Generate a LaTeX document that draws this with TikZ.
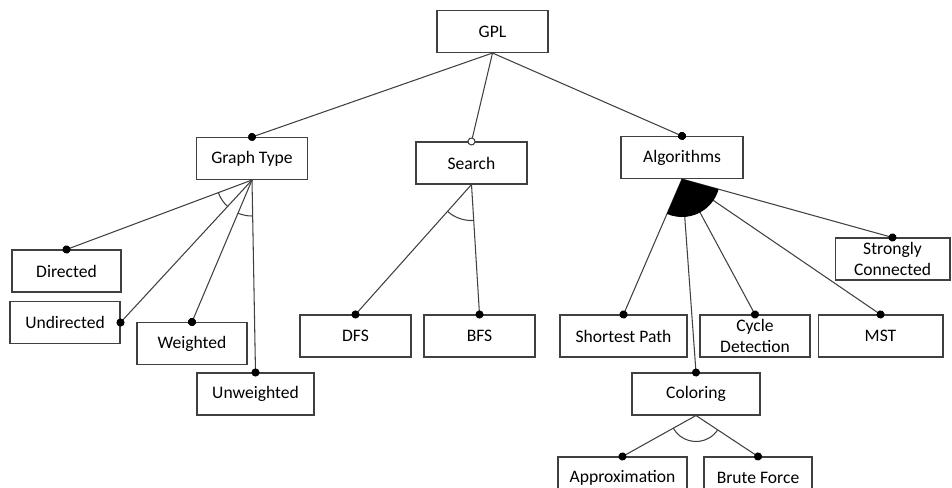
\documentclass[tikz,border=0pt]{standalone}
\usepackage{fontspec}
\setmainfont{Carlito}
\usetikzlibrary{arrows.meta,angles}
\tikzset{
        feature/.style={draw=black!75, rectangle, line width=0.6pt, minimum height=0.84cm, inner xsep=2pt, inner ysep=0pt, align=center, font=\fontsize{10}{11.5}\selectfont},
        link/.style={draw=black!75, line width=0.6pt},
        mand/.style={link, -{Circle[length=4.6pt, black]}, shorten >=-2.3pt},
        opt/.style={link, -{Circle[open, length=4.6pt, fill=white]}, shorten >=-2.3pt},
        alt/.style={draw=black!75, line width=0.6pt, angle radius=0.72cm},
        orgrp/.style={fill=black, angle radius=0.76cm}
          }

\begin{document}
\begin{tikzpicture}[x=0.02cm, y=-0.02cm]
        \useasboundingbox (0,0) rectangle (952,487);
        \node[feature, minimum width=2.22cm] (gpl) at (492.5,31.5) {GPL};
        \node[feature, minimum width=2.22cm] (gtype) at (252,158.5) {Graph Type};
        \node[feature, minimum width=2.22cm] (search) at (471.5,163) {Search};
        \node[feature, minimum width=2.44cm] (algo) at (682,157.5) {Algorithms};
        % graph type
        \node[feature, minimum width=2.18cm] (dir) at (66.5,271) {Directed};
        \node[feature, minimum width=2.2cm] (undir) at (65,322.5) {Undirected};
        \node[feature, minimum width=2.2cm] (wt) at (192,343.5) {Weighted};
        \node[feature, minimum width=2.34cm] (unwt) at (255.5,394) {Unweighted};
        % search
        \node[feature, minimum width=2.22cm] (dfs) at (355.5,336) {DFS};
        \node[feature, minimum width=2.22cm] (bfs) at (479.5,336) {BFS};
        % algorithms
        \node[feature, minimum width=2.54cm] (sp) at (623.5,336) {Shortest Path};
        \node[feature, minimum width=2.2cm] (cycle) at (755,336) {Cycle\\Detection};
        \node[feature, minimum width=2.5cm] (mst) at (880.5,336) {MST};
        \node[feature, minimum width=2.3cm] (scc) at (892.5,259) {Strongly\\Connected};
        \node[feature, minimum width=2.56cm] (color) at (696,394) {Coloring};
        \node[feature, minimum width=2.58cm] (approx) at (622.5,478) {Approximation};
        \node[feature, minimum width=2.16cm] (brute) at (758,478) {Brute Force};

        \draw[mand] (gpl.south) -- (gtype.north);
        \draw[opt] (gpl.south) -- (search.north);
        \draw[mand] (gpl.south) -- (algo.north);

        \draw[mand] (gtype.south) -- (dir.north);
        \draw[mand] (gtype.south) -- (undir.east);
        \draw[mand] (gtype.south) -- (wt.north);
        \draw[mand] (gtype.south) -- (unwt.north);
        \draw[mand] (search.south) -- (dfs.north);
        \draw[mand] (search.south) -- (bfs.north);
        \draw[mand] (algo.south) -- (sp.north);
        \draw[mand] (algo.south) -- (color.north);
        \draw[mand] (algo.south) -- (cycle.north);
        \draw[mand] (algo.south) -- (mst.north);
        \draw[mand] (algo.south) -- (scc.north);
        \draw[mand] (color.south) -- (approx.north);
        \draw[mand] (color.south) -- (brute.north);

        % group arcs
        \coordinate (gt) at (gtype.south);
        \coordinate (se) at (search.south);
        \coordinate (al) at (algo.south);
        \coordinate (co) at (color.south);
        \coordinate (d) at (dir.north);
        \coordinate (u) at (undir.east);
        \coordinate (w) at (wt.north);
        \coordinate (uw) at (unwt.north);
        \coordinate (df) at (dfs.north);
        \coordinate (bf) at (bfs.north);
        \coordinate (s) at (sp.north);
        \coordinate (sc) at (scc.north);
        \coordinate (ap) at (approx.north);
        \coordinate (br) at (brute.north);
        \pic[alt] {angle=d--gt--u};
        \pic[alt] {angle=w--gt--uw};
        \pic[alt] {angle=df--se--bf};
        \pic[orgrp] {angle=s--al--sc};
        \pic[alt, angle radius=0.52cm] {angle=ap--co--br};
\end{tikzpicture}
\end{document}
